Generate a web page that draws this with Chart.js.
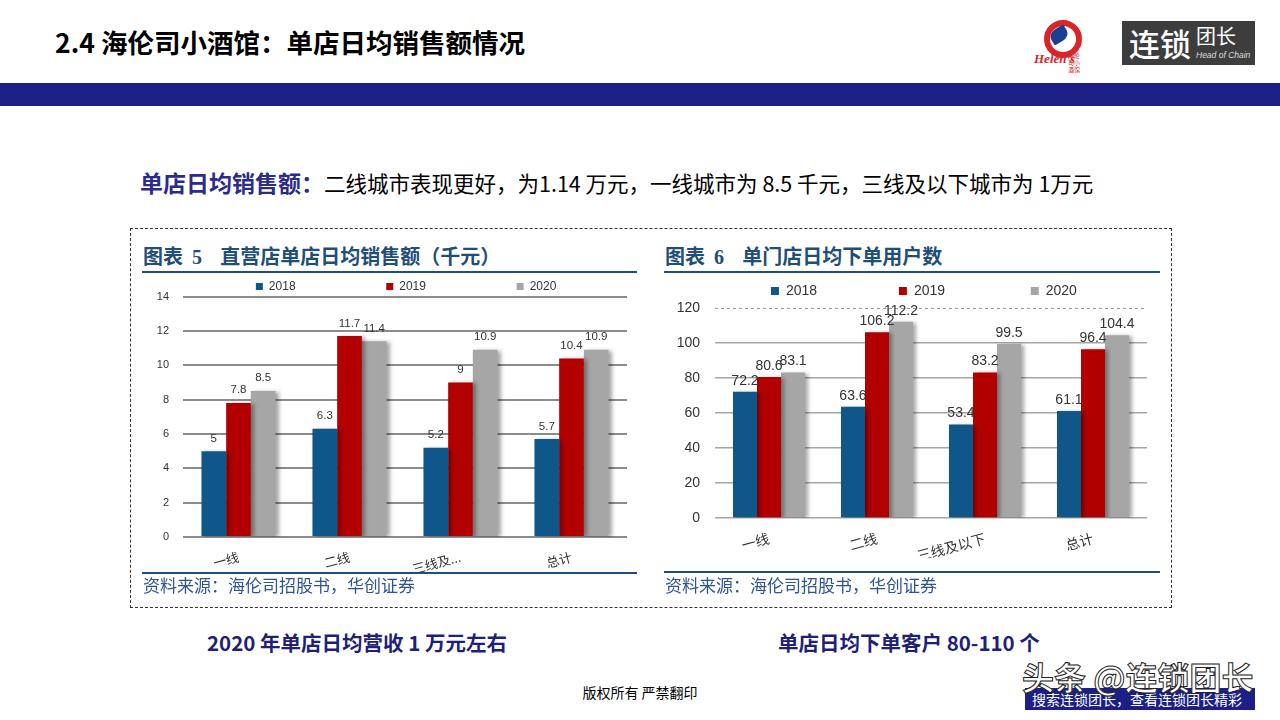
<!DOCTYPE html>
<html><head><meta charset="utf-8">
<script src="https://cdn.jsdelivr.net/npm/chart.js@4"></script>
<style>
body{margin:0;width:1280px;height:720px;position:relative;background:#fff;overflow:hidden;font-family:'Noto Sans CJK SC',sans-serif;}
.a{position:absolute;white-space:nowrap;}
#title{left:55px;top:24px;height:36px;line-height:36px;font-size:26.5px;font-weight:700;color:#000;}
#band{left:0;top:83px;width:1280px;height:23px;background:#1b1f86;}
#sub{left:140px;top:167px;height:30px;line-height:30px;font-size:21.5px;color:#000;}
#sub b{color:#2b2b8c;font-size:23px;}
#box{left:130px;top:228px;width:1040px;height:378px;border:1px dashed #333;}
.ct{height:28px;line-height:28px;font-size:20px;font-weight:700;color:#1f4e79;top:242px;}
.ct .n{font-family:'Liberation Serif',serif;}
.rule{height:2px;background:#1f4e79;}
.src{height:24px;line-height:24px;font-size:17px;color:#2e5590;top:573px;}
.cap{height:28px;line-height:28px;font-size:20.5px;font-weight:700;color:#1f1f7a;top:628px;}
#foot{left:0;width:1280px;text-align:center;top:682px;height:20px;line-height:20px;font-size:14px;color:#000;}
canvas{position:absolute;}
#wmbox{left:1025px;top:688px;width:230px;height:22px;background:#1b1f86;overflow:hidden;}
#wmsmall{left:1032px;top:688px;width:220px;overflow:hidden;height:22px;line-height:22px;font-size:14px;color:#fff;}
#wm{left:1022px;top:656px;height:40px;line-height:40px;font-size:32px;font-weight:700;color:#fff;-webkit-text-stroke:1px #222;}
#lt{left:1122px;top:21px;width:133px;height:44px;background:#3d3d3d;}
</style></head>
<body>
<div class="a" id="title">2.4 海伦司小酒馆：单店日均销售额情况</div>
<div class="a" style="left:1044px;top:20px;width:26px;height:26px;border-radius:50%;border:6px solid #d9252a;"></div>
<div class="a" style="left:1050px;top:28px;width:18px;height:14px;background:#1d3f8f;border-radius:50% 10% 50% 10%;transform:rotate(-30deg);"></div>
<div class="a" style="left:1034px;top:50px;height:18px;line-height:18px;font-size:13px;font-style:italic;font-weight:700;color:#d9252a;font-family:'Liberation Serif',serif;">Helen's</div>
<div class="a" style="left:1068px;top:52px;height:14px;line-height:7px;font-size:6px;color:#d9252a;white-space:normal;width:14px;">海伦司小酒馆</div>
<div class="a" id="lt"></div>
<div class="a" style="left:1129px;top:21px;height:44px;line-height:44px;font-size:31px;font-weight:500;color:#fff;">连锁</div>
<div class="a" style="left:1196px;top:23px;height:26px;line-height:26px;font-size:20px;color:#fff;">团长</div>
<div class="a" style="left:1196px;top:49px;height:12px;line-height:12px;font-size:8.5px;font-style:italic;color:#ddd;font-family:'Liberation Sans',sans-serif;">Head of Chain</div>
<div class="a" id="band"></div>
<div class="a" id="sub"><b>单店日均销售额：</b>二线城市表现更好，为1.14 万元，一线城市为 8.5 千元，三线及以下城市为 1万元</div>
<div class="a" id="box"></div>
<div class="a ct" style="left:143px;">图表&nbsp;&nbsp;<span class="n">5</span>&nbsp;&nbsp;&nbsp;&nbsp;直营店单店日均销售额（千元）</div>
<div class="a rule" style="left:142px;top:271px;width:495px;"></div>
<div class="a ct" style="left:665px;">图表&nbsp;&nbsp;<span class="n">6</span>&nbsp;&nbsp;&nbsp;&nbsp;单门店日均下单用户数</div>
<div class="a rule" style="left:664px;top:271px;width:496px;"></div>
<canvas id="c1" width="500" height="297" style="left:135px;top:276px;"></canvas>
<canvas id="c2" width="495" height="278" style="left:665px;top:280px;"></canvas>
<div class="a rule" style="left:142px;top:572px;width:495px;"></div>
<div class="a rule" style="left:664px;top:571px;width:496px;"></div>
<div class="a src" style="left:143px;">资料来源：海伦司招股书，华创证券</div>
<div class="a src" style="left:665px;">资料来源：海伦司招股书，华创证券</div>
<div class="a cap" style="left:207px;">2020 年单店日均营收 1 万元左右</div>
<div class="a cap" style="left:778px;">单店日均下单客户 80-110 个</div>
<div class="a" id="foot">版权所有 严禁翻印</div>
<div class="a" id="wmbox"></div>
<div class="a" id="wmsmall">搜索连锁团长，查看连锁团长精彩</div>
<div class="a" id="wm">头条 @连锁团长</div>
<script>
// ---- data ----
const years = ['2018', '2019', '2020'];
const cats1 = ['一线', '二线', '三线及...', '总计'];
const sales2018 = [5, 6.3, 5.2, 5.7];
const sales2019 = [7.8, 11.7, 9, 10.4];
const sales2020 = [8.5, 11.4, 10.9, 10.9];
const cats2 = ['一线', '二线', '三线及以下', '总计'];
const users2018 = [72.2, 63.6, 53.4, 61.1];
const users2019 = [80.6, 106.2, 83.2, 96.4];
const users2020 = [83.1, 112.2, 99.5, 104.4];
const axis1 = {min: 0, max: 14, step: 2};
const axis2 = {min: 0, max: 120, step: 20};

const BLUE = '#0f5788', RED = '#b20000', GRAY = '#a6a6a6';
const FAM = 'Liberation Sans';
const CJK = "'Noto Sans CJK SC', sans-serif";

const shadowPlugin = {
  id: 'barShadow',
  beforeDatasetDraw(chart) {
    const c = chart.ctx; c.save();
    c.shadowColor = 'rgba(0,0,0,0.35)'; c.shadowBlur = 4; c.shadowOffsetX = 3; c.shadowOffsetY = 1;
  },
  afterDatasetDraw(chart) { chart.ctx.restore(); }
};
const valueLabels = {
  id: 'valueLabels',
  afterDatasetsDraw(chart, args, opts) {
    const ctx = chart.ctx; ctx.save();
    ctx.font = opts.font; ctx.fillStyle = opts.color; ctx.textAlign = 'center'; ctx.textBaseline = 'bottom';
    chart.data.datasets.forEach((ds, i) => {
      chart.getDatasetMeta(i).data.forEach((el, j) => {
        ctx.fillText(String(ds.data[j]), el.x, el.y - opts.offset);
      });
    });
    ctx.restore();
  }
};
function paddedLabels(font, targets) {
  return function (chart) {
    const items = Chart.defaults.plugins.legend.labels.generateLabels(chart);
    const ctx = chart.ctx; ctx.save(); ctx.font = font;
    items.forEach((it, i) => {
      let t = it.text;
      while (ctx.measureText(t + ' ').width <= targets[i]) t += ' ';
      it.text = t;
    });
    ctx.restore();
    return items;
  };
}
function makeDatasets(a, b, c) {
  return [
    {label: years[0], data: a, backgroundColor: BLUE},
    {label: years[1], data: b, backgroundColor: RED},
    {label: years[2], data: c, backgroundColor: GRAY}
  ];
}

new Chart(document.getElementById('c1'), {
  type: 'bar',
  data: {labels: cats1, datasets: makeDatasets(sales2018, sales2019, sales2020)},
  options: {
    responsive: false, animation: false, devicePixelRatio: 1,
    layout: {padding: {left: 0, right: 8, top: 0, bottom: 0}},
    datasets: {bar: {categoryPercentage: 0.667, barPercentage: 1}},
    plugins: {
      legend: {position: 'top', align: 'end', maxHeight: 20,
        labels: {boxWidth: 7, boxHeight: 7, padding: 4, color: '#333', font: {size: 12, family: FAM},
          generateLabels: paddedLabels('12px ' + FAM, [115, 116, 94])}},
      tooltip: {enabled: false},
      valueLabels: {font: '11.5px ' + FAM, color: '#333', offset: 7}
    },
    scales: {
      x: {grid: {display: false}, border: {display: false},
        ticks: {font: {size: 13, family: CJK}, color: '#333', minRotation: 15, maxRotation: 15, padding: 4},
        afterFit(s) { s.height = 36; }},
      y: {min: axis1.min, max: axis1.max, border: {display: false},
        ticks: {stepSize: axis1.step, font: {size: 11, family: FAM}, color: '#333', padding: 14},
        grid: {color: '#8c8c8c', lineWidth: 2, drawTicks: false},
        afterFit(s) { s.width = 48; }}
    }
  },
  plugins: [shadowPlugin, valueLabels]
});

new Chart(document.getElementById('c2'), {
  type: 'bar',
  data: {labels: cats2, datasets: makeDatasets(users2018, users2019, users2020)},
  options: {
    responsive: false, animation: false, devicePixelRatio: 1,
    layout: {padding: {left: 0, right: 13, top: 0, bottom: 0}},
    datasets: {bar: {categoryPercentage: 0.667, barPercentage: 1}},
    plugins: {
      legend: {position: 'top', align: 'end', maxHeight: 28,
        labels: {boxWidth: 8, boxHeight: 8, padding: 4, color: '#333', font: {size: 14, family: FAM},
          generateLabels: paddedLabels('14px ' + FAM, [112, 114, 98])}},
      tooltip: {enabled: false},
      valueLabels: {font: '14px ' + FAM, color: '#333', offset: 4}
    },
    scales: {
      x: {grid: {display: false}, border: {display: false},
        ticks: {font: {size: 14, family: CJK}, color: '#333', minRotation: 15, maxRotation: 15, padding: 4},
        afterFit(s) { s.height = 40; }},
      y: {min: axis2.min, max: axis2.max,
        border: {display: false, dash: ctx => (ctx.tick && ctx.tick.value === axis2.max) ? [3, 3] : []},
        ticks: {stepSize: axis2.step, font: {size: 14, family: FAM}, color: '#333', padding: 15},
        grid: {drawTicks: false,
          color: ctx => (ctx.tick && ctx.tick.value === axis2.max) ? '#9a9a9a' : '#a6a6a6',
          lineWidth: ctx => (ctx.tick && ctx.tick.value === axis2.max) ? 1 : 1.5},
        afterFit(s) { s.width = 50; }}
    }
  },
  plugins: [shadowPlugin, valueLabels]
});
</script>
</body></html>
